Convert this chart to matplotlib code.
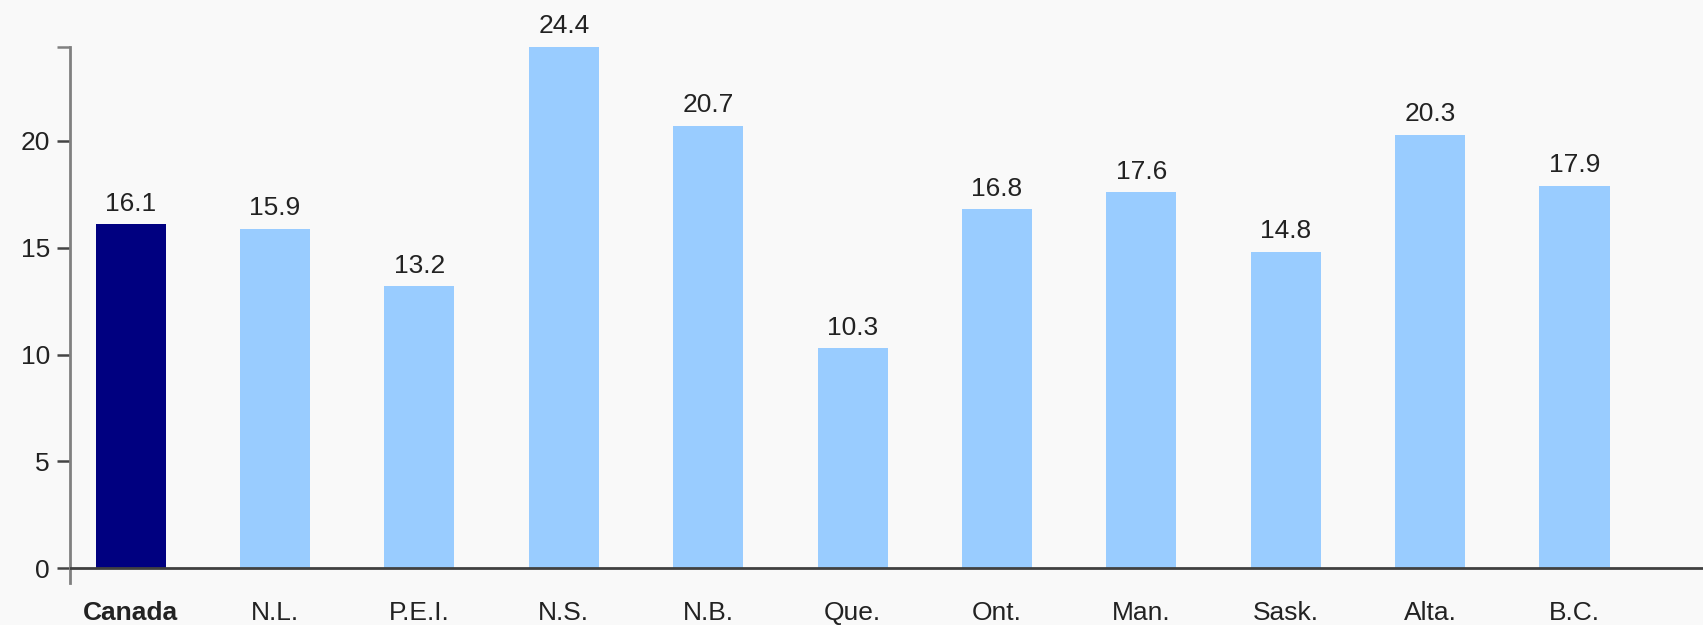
import matplotlib.pyplot as plt
import numpy as np

plt.rcParams['font.family'] = ['Liberation Sans', 'DejaVu Sans']

# ====================== DATA ======================
regions = ["Canada", "N.L.", "P.E.I.", "N.S.", "N.B.", "Que.",
           "Ont.", "Man.", "Sask.", "Alta.", "B.C."]
values = [16.1, 15.9, 13.2, 24.4, 20.7, 10.3, 16.8, 17.6, 14.8, 20.3, 17.9]
y_ticks = [0, 5, 10, 15, 20]
# ==================================================

BG = "#f9f9f9"
TXT = "#222222"

fig = plt.figure(figsize=(17.03, 6.25), dpi=100, facecolor=BG)
ax = fig.add_axes([70 / 1703, 42 / 625, 1 - 70 / 1703, 536 / 625])
ax.set_facecolor(BG)

x = np.arange(len(regions))
colors = ["#000080"] + ["#99ccff"] * (len(regions) - 1)
bars = ax.bar(x, values, width=0.485, color=colors, zorder=2)

for xi, v in zip(x, values):
    ax.text(xi, v + 0.4, f"{v:.1f}", ha="center", va="bottom",
            fontsize=19, color=TXT)

ax.set_xlim(-0.42, 10.89)
ax.set_ylim(-0.7, 24.4)

ax.axhline(0, color="#404040", lw=2, zorder=3)

for s in ["top", "right", "bottom"]:
    ax.spines[s].set_visible(False)
ax.spines["left"].set_color("#808080")
ax.spines["left"].set_linewidth(2)

ax.set_yticks(y_ticks)
ax.set_yticks([24.4], minor=True)
ax.tick_params(axis="y", which="both", length=9.5, width=1.8, color="#444444",
               pad=5, labelsize=19, labelcolor=TXT)
ax.tick_params(axis="y", which="minor", color="#808080")

ax.set_xticks(x)
ax.set_xticklabels(regions, fontsize=19, color=TXT)
ax.tick_params(axis="x", length=0, pad=13)
ax.get_xticklabels()[0].set_fontweight("bold")

fig.savefig("out.png", dpi=100, facecolor=BG)
